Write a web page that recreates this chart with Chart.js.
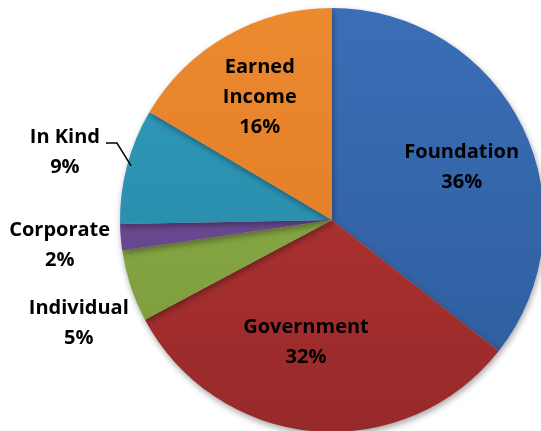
<!DOCTYPE html>
<html><head><meta charset="utf-8">
<script src="https://cdn.jsdelivr.net/npm/chart.js@4/dist/chart.umd.min.js"></script>
<style>
html,body{margin:0;padding:0;background:#fff;overflow:hidden;width:541px;height:431px;}
#wrap{position:absolute;left:0;top:0;width:550px;height:440px;}
</style></head><body>
<div id="wrap"><canvas id="c" width="550" height="440"></canvas></div>
<script>
const categories = ["Foundation", "Government", "Individual", "Corporate", "In Kind", "Earned Income"];
const values = [35.6, 31.6, 5.5, 2.0, 8.8, 16.5];
const pctLabels = ["36%", "32%", "5%", "2%", "9%", "16%"];
const labelLines = [["Foundation"], ["Government"], ["Individual"], ["Corporate"], ["In Kind"], ["Earned", "Income"]];
const colorsTop = ["#3A6EB6", "#B93835", "#8FB04B", "#74519B", "#2F9CBD", "#EC8A30"];
const colorsBottom = ["#2D5C9C", "#98292A", "#7A9A3A", "#5F3F85", "#27839F", "#DC7621"];

// label placement: radius factor, angle shift (deg)
const labelPlace = [
  {f:0.66, da:3.9},
  {f:0.59, da:6.96},
  {f:1.29, da:-4.0},
  {f:1.29, da:-0.57},
  {f:1.30, da:-0.5},
  {f:0.67, da:-0.85}
];

function grad(ctx, chart, i){
  const ca = chart.chartArea;
  if(!ca) return colorsTop[i];
  const g = ctx.createLinearGradient(0, ca.top, 0, ca.bottom);
  g.addColorStop(0, colorsTop[i]);
  g.addColorStop(1, colorsBottom[i]);
  return g;
}

const shadowPlugin = {
  id:'shadow',
  beforeDatasetsDraw(chart){
    const c = chart.ctx; c.save();
    c.shadowColor='rgba(0,0,0,0.35)'; c.shadowBlur=6; c.shadowOffsetX=1; c.shadowOffsetY=3;
  },
  afterDatasetsDraw(chart){ chart.ctx.restore(); }
};

const labelPlugin = {
  id:'labels',
  afterDraw(chart){
    const c = chart.ctx;
    const meta = chart.getDatasetMeta(0);
    c.save();
    c.font = 'bold 20px "Open Sans", Lato, sans-serif';
    c.fillStyle = '#000';
    c.textAlign = 'center';
    c.textBaseline = 'middle';
    meta.data.forEach((arc, i) => {
      const p = arc.getProps(['x','y','startAngle','endAngle','outerRadius']);
      const mid = (p.startAngle + p.endAngle)/2 + labelPlace[i].da*Math.PI/180;
      const r = p.outerRadius*labelPlace[i].f;
      const x = p.x + Math.cos(mid)*r, y = p.y + Math.sin(mid)*r;
      const lines = labelLines[i].concat([pctLabels[i]]);
      const lh = 30;
      const y0 = y - (lines.length-1)*lh/2;
      lines.forEach((t, k) => c.fillText(t, x, y0 + k*lh));
      if (categories[i] === 'In Kind') {
        const a = (p.startAngle + p.endAngle)/2 + 0.3*Math.PI/180;
        const ex = p.x + Math.cos(a)*(p.outerRadius-4), ey = p.y + Math.sin(a)*(p.outerRadius-4);
        const w = c.measureText(labelLines[i][0]).width;
        const ty = y0 + 6;
        c.strokeStyle = '#000'; c.lineWidth = 1.5;
        c.beginPath();
        c.moveTo(x + w/2 + 6, ty);
        c.lineTo(x + w/2 + 17, ty);
        c.lineTo(ex, ey);
        c.stroke();
      }
    });
    c.restore();
  }
};

new Chart(document.getElementById('c'), {
  type:'pie',
  data:{
    labels:categories,
    datasets:[{
      data:values,
      backgroundColor:(ctx)=>grad(ctx.chart.ctx, ctx.chart, ctx.dataIndex),
      borderWidth:0
    }]
  },
  options:{
    responsive:false,
    animation:false,
    rotation:0,
    layout:{padding:{top:8,bottom:8,left:120,right:6}},
    plugins:{legend:{display:false},tooltip:{enabled:false}}
  },
  plugins:[shadowPlugin,labelPlugin]
});
</script>
</body></html>
